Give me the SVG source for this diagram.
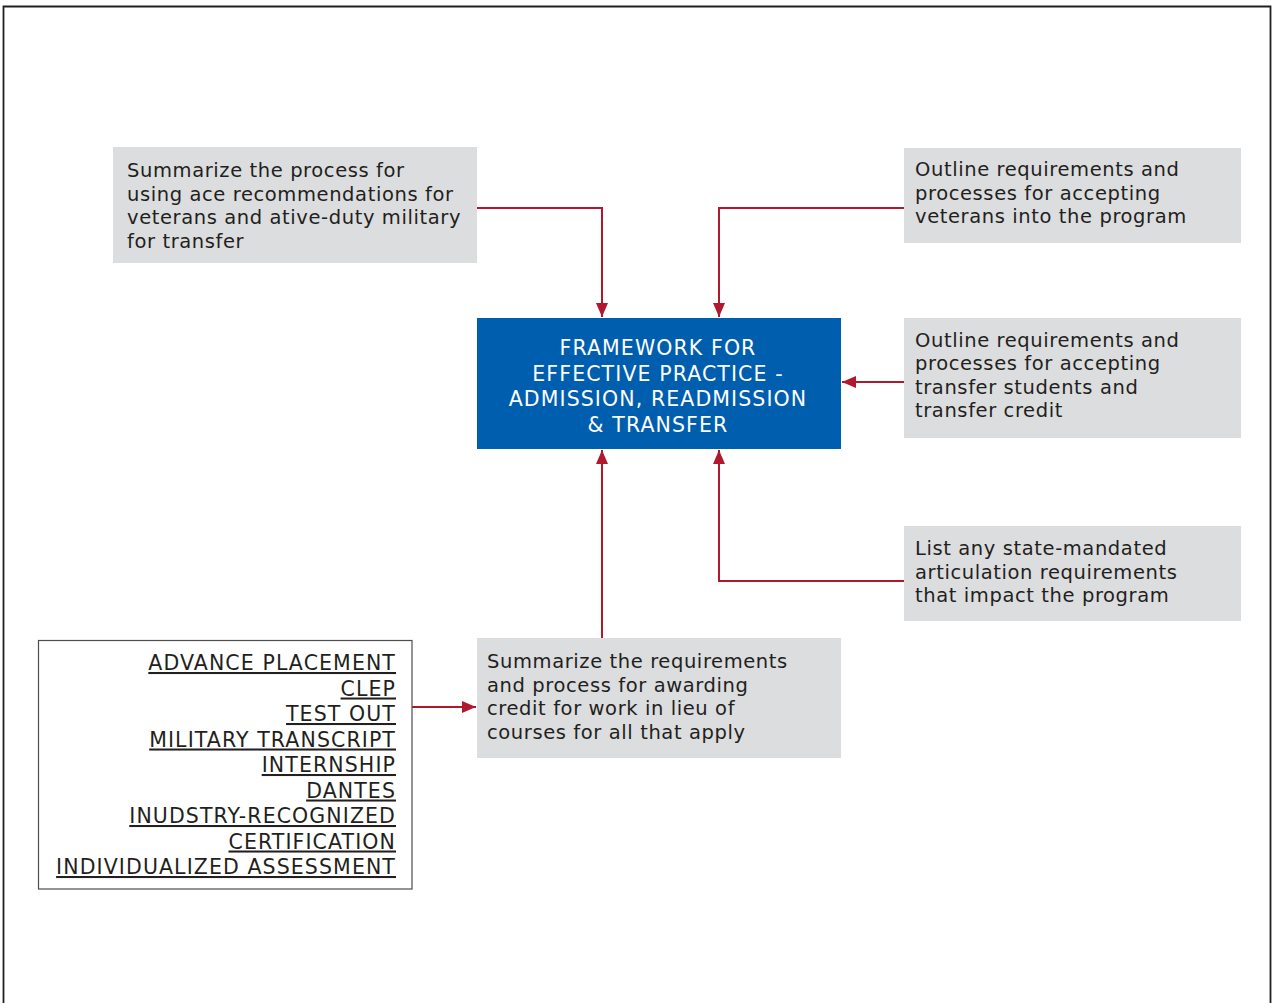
<svg xmlns="http://www.w3.org/2000/svg" width="1272" height="1003" viewBox="0 0 1272 1003">
<style>
.box{fill:#dcdddf}
.t{font-family:"DejaVu Sans","Liberation Sans",sans-serif;font-size:19.5px;letter-spacing:0.6px;fill:#231f20}
.w{font-family:"DejaVu Sans","Liberation Sans",sans-serif;font-size:20.5px;letter-spacing:1.1px;fill:#ffffff;text-anchor:middle}
.l{font-family:"DejaVu Sans","Liberation Sans",sans-serif;font-size:20.5px;letter-spacing:1.1px;fill:#231f20;text-anchor:end;text-decoration:underline}
.c{fill:none;stroke:#b0182e;stroke-width:2}
</style>
<defs>
<marker id="ah" viewBox="0 0 14 12" refX="14" refY="6" markerWidth="14" markerHeight="12" orient="auto" markerUnits="userSpaceOnUse">
<path d="M0,0 L14,6 L0,12 z" fill="#b0182e"/>
</marker>
</defs>
<rect x="0" y="0" width="1272" height="1003" fill="#ffffff"/>
<path d="M3.5,1010 V6.5 H1270.5 V1010" fill="none" stroke="#231f20" stroke-width="1.8"/>
<g id="connectors">
<path class="c" d="M477,208 H602 V317" marker-end="url(#ah)"/>
<path class="c" d="M904,208 H719 V317" marker-end="url(#ah)"/>
<path class="c" d="M904,382 H842" marker-end="url(#ah)"/>
<path class="c" d="M904,581 H719 V450" marker-end="url(#ah)"/>
<path class="c" d="M602,638 V450" marker-end="url(#ah)"/>
<path class="c" d="M412,707 H476" marker-end="url(#ah)"/>
</g>
<g id="node-ace">
<rect class="box" x="113" y="147" width="364" height="116"/>
<text class="t" x="127" y="177">Summarize the process for</text>
<text class="t" x="127" y="200.5">using ace recommendations for</text>
<text class="t" x="127" y="224">veterans and ative-duty military</text>
<text class="t" x="127" y="247.5">for transfer</text>
</g>
<g id="node-veterans">
<rect class="box" x="904" y="148" width="337" height="95"/>
<text class="t" x="915" y="176">Outline requirements and</text>
<text class="t" x="915" y="199.5">processes for accepting</text>
<text class="t" x="915" y="223">veterans into the program</text>
</g>
<g id="node-framework">
<rect x="477" y="318" width="364" height="131" fill="#005eae"/>
<text class="w" x="658" y="355">FRAMEWORK FOR</text>
<text class="w" x="658" y="380.7">EFFECTIVE PRACTICE -</text>
<text class="w" x="658" y="406">ADMISSION, READMISSION</text>
<text class="w" x="658" y="431.7">&amp; TRANSFER</text>
</g>
<g id="node-transfer">
<rect class="box" x="904" y="318" width="337" height="120"/>
<text class="t" x="915" y="346.7">Outline requirements and</text>
<text class="t" x="915" y="370.2">processes for accepting</text>
<text class="t" x="915" y="393.7">transfer students and</text>
<text class="t" x="915" y="417.2">transfer credit</text>
</g>
<g id="node-state">
<rect class="box" x="904" y="526" width="337" height="95"/>
<text class="t" x="915" y="555">List any state-mandated</text>
<text class="t" x="915" y="578.5">articulation requirements</text>
<text class="t" x="915" y="602">that impact the program</text>
</g>
<g id="node-credit">
<rect class="box" x="477" y="638" width="364" height="120"/>
<text class="t" x="487" y="668">Summarize the requirements</text>
<text class="t" x="487" y="691.5">and process for awarding</text>
<text class="t" x="487" y="715">credit for work in lieu of</text>
<text class="t" x="487" y="738.5">courses for all that apply</text>
</g>
<g id="node-list">
<rect x="38.5" y="640.5" width="373.5" height="248.5" fill="#ffffff" stroke="#4d4d4f" stroke-width="1.2"/>
<text class="l" x="396" y="670">ADVANCE PLACEMENT</text>
<text class="l" x="396" y="695.5">CLEP</text>
<text class="l" x="396" y="721">TEST OUT</text>
<text class="l" x="396" y="746.5">MILITARY TRANSCRIPT</text>
<text class="l" x="396" y="772">INTERNSHIP</text>
<text class="l" x="396" y="797.5">DANTES</text>
<text class="l" x="396" y="823">INUDSTRY-RECOGNIZED</text>
<text class="l" x="396" y="848.5">CERTIFICATION</text>
<text class="l" x="396" y="874">INDIVIDUALIZED ASSESSMENT</text>
</g>
</svg>
